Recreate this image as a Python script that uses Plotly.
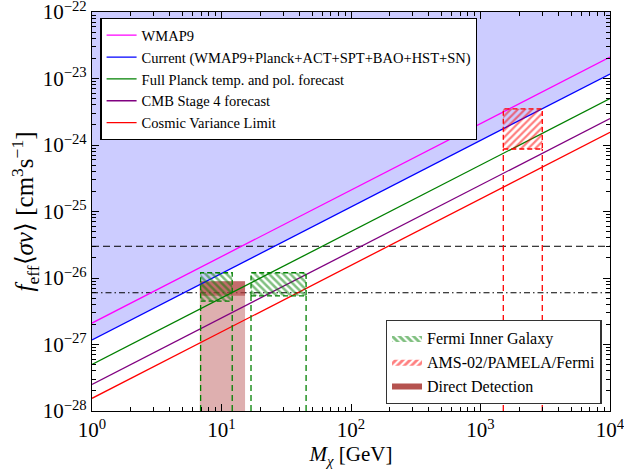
import plotly.graph_objects as go

# ---- data ----
mass_ends = [1.0, 1.0e4]                     # GeV
wmap9 = [2.1e-27, 2.1e-23]
current = [1.17e-27, 1.17e-23]
planck_fc = [5.0e-28, 5.0e-24]
s4_fc = [2.5e-28, 2.5e-24]
cvl = [1.55e-28, 1.55e-24]

y_top = 1e-22
y_bot = 1e-28
thermal_dashed = 3.0e-26
thermal_dashdot = 6.0e-27

fermi_boxes_x = [[6.9, 12.1], [16.9, 45.0]]
fermi_boxes_y = [[4.5e-27, 1.2e-26], [5.4e-27, 1.2e-26]]
ams_box_x = [1500.0, 3000.0]
ams_box_y = [8.7e-25, 3.5e-24]
dd_x = [6.8, 15.2]
dd_col_y = [1e-28, 8.9e-27]
dd_band_y = [5.4e-27, 8.9e-27]

x_tick_vals = [1, 10, 100, 1000, 10000]
x_tick_text = ["10<sup>0</sup>", "10<sup>1</sup>", "10<sup>2</sup>", "10<sup>3</sup>", "10<sup>4</sup>"]
y_tick_vals = [1e-28, 1e-27, 1e-26, 1e-25, 1e-24, 1e-23, 1e-22]
y_tick_text = ["10<sup>−28</sup>", "10<sup>−27</sup>", "10<sup>−26</sup>", "10<sup>−25</sup>",
               "10<sup>−24</sup>", "10<sup>−23</sup>", "10<sup>−22</sup>"]
x_minor_vals = [k * 10.0 ** e for e in range(0, 4) for k in range(2, 10)]
y_minor_vals = [k * 10.0 ** e for e in range(-28, -22) for k in range(2, 10)]

line_names = ["WMAP9", "Current (WMAP9+Planck+ACT+SPT+BAO+HST+SN)",
              "Full Planck temp. and pol. forecast", "CMB Stage 4 forecast",
              "Cosmic Variance Limit"]
line_vals = [wmap9, current, planck_fc, s4_fc, cvl]
line_colors = ["#ff00ff", "#0000ff", "#008000", "#800080", "#ff0000"]

FONT = "Liberation Serif, Times New Roman, serif"

fig = go.Figure()

# excluded region above current constraint
fig.add_trace(go.Scatter(
    x=[mass_ends[0], mass_ends[1], mass_ends[1], mass_ends[0], mass_ends[0]],
    y=[current[0], current[1], y_top, y_top, current[0]],
    mode="lines", line=dict(width=0), fill="toself",
    fillcolor="rgb(204,204,255)", showlegend=False, hoverinfo="skip"))

# horizontal reference lines
fig.add_trace(go.Scatter(x=mass_ends, y=[thermal_dashed] * 2, mode="lines",
                         line=dict(color="black", width=1, dash="7px,4px"),
                         showlegend=False))
fig.add_trace(go.Scatter(x=mass_ends, y=[thermal_dashdot] * 2, mode="lines",
                         line=dict(color="black", width=1, dash="6px,3px,1.5px,3px"),
                         showlegend=False))

# direct detection
fig.add_trace(go.Scatter(
    x=[dd_x[0], dd_x[1], dd_x[1], dd_x[0], dd_x[0]],
    y=[dd_col_y[0], dd_col_y[0], dd_col_y[1], dd_col_y[1], dd_col_y[0]],
    mode="lines", line=dict(width=0), fill="toself", fillcolor="rgba(176,64,64,0.42)",
    showlegend=False, hoverinfo="skip"))
fig.add_trace(go.Scatter(
    x=[dd_x[0], dd_x[1], dd_x[1], dd_x[0], dd_x[0]],
    y=[dd_band_y[0], dd_band_y[0], dd_band_y[1], dd_band_y[1], dd_band_y[0]],
    mode="lines", line=dict(width=0), fill="toself", fillcolor="rgba(176,64,64,0.6)",
    showlegend=False, hoverinfo="skip"))

# lines
for name, vals, col in zip(line_names, line_vals, line_colors):
    fig.add_trace(go.Scatter(x=mass_ends, y=vals, mode="lines", name=name,
                             line=dict(color=col, width=1.3), legend="legend"))

green_pat = dict(shape="\\", fgcolor="#008000", bgcolor="rgba(255,255,255,0)",
                 size=5, solidity=0.5)
red_pat = dict(shape="/", fgcolor="#ff0000", bgcolor="rgba(255,255,255,0)",
               size=5, solidity=0.45)

# Fermi boxes (hatched) and dashed verticals
for bx, by in zip(fermi_boxes_x, fermi_boxes_y):
    fig.add_trace(go.Scatter(
        x=[bx[0], bx[1], bx[1], bx[0], bx[0]],
        y=[by[0], by[0], by[1], by[1], by[0]],
        mode="lines", line=dict(color="#008000", width=1.3, dash="5px,3px"),
        fill="toself", fillcolor="rgba(0,0,0,0)", fillpattern=green_pat,
        showlegend=False, hoverinfo="skip"))
    for xv in bx:
        fig.add_trace(go.Scatter(x=[xv, xv], y=[y_bot, by[0]], mode="lines",
                                 line=dict(color="#008000", width=1.3, dash="6px,4px"),
                                 showlegend=False))

# AMS box
fig.add_trace(go.Scatter(
    x=[ams_box_x[0], ams_box_x[1], ams_box_x[1], ams_box_x[0], ams_box_x[0]],
    y=[ams_box_y[0], ams_box_y[0], ams_box_y[1], ams_box_y[1], ams_box_y[0]],
    mode="lines", line=dict(color="#ff0000", width=1.3, dash="5px,3px"),
    fill="toself", fillcolor="rgba(0,0,0,0)", fillpattern=red_pat,
    showlegend=False, hoverinfo="skip"))
for xv in ams_box_x:
    fig.add_trace(go.Scatter(x=[xv, xv], y=[y_bot, ams_box_y[0]], mode="lines",
                             line=dict(color="#ff0000", width=1.3, dash="6px,4px"),
                             showlegend=False))

# legend entries for the second legend
fig.add_trace(go.Scatter(
    x=[None], y=[None], mode="lines", line=dict(width=0), fill="toself",
    fillcolor="rgba(0,0,0,0)", fillpattern=dict(green_pat, solidity=0.55),
    name="Fermi Inner Galaxy", legend="legend2"))
fig.add_trace(go.Scatter(
    x=[None], y=[None], mode="lines", line=dict(width=0), fill="toself",
    fillcolor="rgba(0,0,0,0)", fillpattern=dict(red_pat, solidity=0.55),
    name="AMS-02/PAMELA/Fermi", legend="legend2"))
fig.add_trace(go.Scatter(
    x=[None], y=[None], mode="lines", line=dict(width=0), fill="toself",
    fillcolor="#b5524f", name="Direct Detection", legend="legend2"))

axis_common = dict(
    type="log", showgrid=False, zeroline=False, showline=True, linecolor="black",
    linewidth=1.3, mirror="allticks", ticks="inside", ticklen=7, tickwidth=1,
    tickcolor="black", automargin=False, ticklabeloverflow="allow",
    tickfont=dict(family=FONT, size=21, color="black"),
)
minor_common = dict(ticks="inside", ticklen=3.5, tickwidth=0.8, tickcolor="black",
                    showgrid=False, tickmode="array")

fig.update_layout(
    width=624, height=472,
    margin=dict(l=92, r=14, t=12, b=61),
    paper_bgcolor="white", plot_bgcolor="white",
    font=dict(family=FONT, color="black"),
    xaxis=dict(range=[0, 4], tickvals=x_tick_vals, ticktext=x_tick_text, **axis_common,
               minor=dict(tickvals=x_minor_vals, **minor_common),
               title=dict(text="<i>M</i><sub><i>χ</i></sub> [GeV]",
                          font=dict(family=FONT, size=21), standoff=0)),
    yaxis=dict(range=[-28, -22], tickvals=y_tick_vals, ticktext=y_tick_text, **axis_common,
               minor=dict(tickvals=y_minor_vals, **minor_common),
               title=dict(text="<i>f</i><sub>eff</sub>⟨<i>σv</i>⟩ [cm<sup>3</sup>s<sup>−1</sup>]",
                          font=dict(family=FONT, size=25), standoff=0)),
    legend=dict(x=0.016, y=0.985, xanchor="left", yanchor="top",
                bgcolor="white", bordercolor="black", borderwidth=1.3,
                font=dict(family=FONT, size=14.5), itemwidth=30,
                tracegroupgap=0),
    legend2=dict(x=0.984, y=0.018, xanchor="right", yanchor="bottom",
                 bgcolor="white", bordercolor="#333", borderwidth=1.3,
                 font=dict(family=FONT, size=16), itemwidth=30),
    showlegend=True,
)

# remove the browser's default page margin so the figure sits at the window origin
fig.write_html("out.html", config={"displayModeBar": False},
               post_script="document.body.style.margin='0';document.body.style.overflow='hidden';")
